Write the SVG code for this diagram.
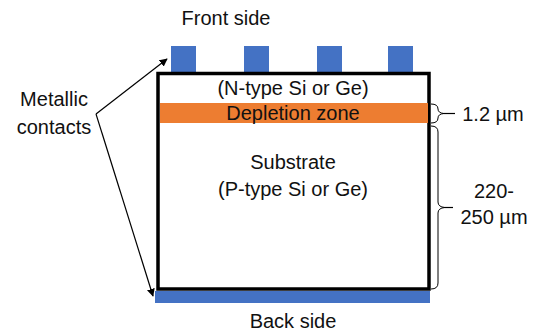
<svg xmlns="http://www.w3.org/2000/svg" width="537" height="334" viewBox="0 0 537 334">
<style>
text{font-family:"Liberation Sans",Arial,sans-serif;font-size:20px;fill:#111;text-anchor:middle}
.contact{fill:#4472c4}
.conn{fill:none;stroke:#000;stroke-width:1.2}
.brace{fill:none;stroke:#000;stroke-width:1}
</style>
<defs>
<marker id="arr" viewBox="0 0 10 10" refX="9" refY="5" markerWidth="8" markerHeight="8" markerUnits="userSpaceOnUse" orient="auto"><path d="M0,0 L10,5 L0,10 z" fill="#000"/></marker>
</defs>
<rect width="537" height="334" fill="#fff"/>
<g id="front-label"><text x="226" y="25">Front side</text></g>
<g id="front-contacts">
<rect class="contact" x="171" y="46" width="25" height="26"/>
<rect class="contact" x="244" y="46" width="25" height="26"/>
<rect class="contact" x="317" y="46" width="25" height="26"/>
<rect class="contact" x="388" y="46" width="25" height="26"/>
</g>
<g id="back-contact"><rect class="contact" x="155" y="291" width="275" height="12"/></g>
<g id="wafer">
<rect x="158" y="73.5" width="271" height="215.5" fill="#fff" stroke="#000" stroke-width="3.5"/>
<text x="293" y="95">(N-type Si or Ge)</text>
</g>
<g id="depletion">
<rect x="160" y="103" width="268" height="20" fill="#ed7d31"/>
<text x="293" y="120">Depletion zone</text>
</g>
<g id="substrate">
<text x="293" y="169">Substrate</text>
<text x="293" y="196">(P-type Si or Ge)</text>
</g>
<g id="back-label"><text x="293" y="328">Back side</text></g>
<g id="metallic-label">
<text x="54" y="106">Metallic</text>
<text x="54" y="134">contacts</text>
</g>
<g id="dim-depletion">
<path class="brace" d="M431,104 Q438,104 438,109 Q438,113 444,113.5 Q438,114 438,118 Q438,123 431,123"/>
<text x="493" y="121">1.2 µm</text>
</g>
<g id="dim-substrate">
<path class="brace" d="M431,126 Q438,126 438,132 L438,202 Q438,207 445,207.5 Q438,208 438,213 L438,283 Q438,289 431,289"/>
<text x="494" y="198">220-</text>
<text x="494" y="224">250 µm</text>
</g>
<g id="connectors">
<path class="conn" d="M96,114 L167,59" marker-end="url(#arr)"/>
<path class="conn" d="M96,114 L153,296" marker-end="url(#arr)"/>
<path class="conn" d="M444,113.5 L455,113.5"/>
<path class="conn" d="M445,207.5 L453,207.5"/>
</g>
</svg>
